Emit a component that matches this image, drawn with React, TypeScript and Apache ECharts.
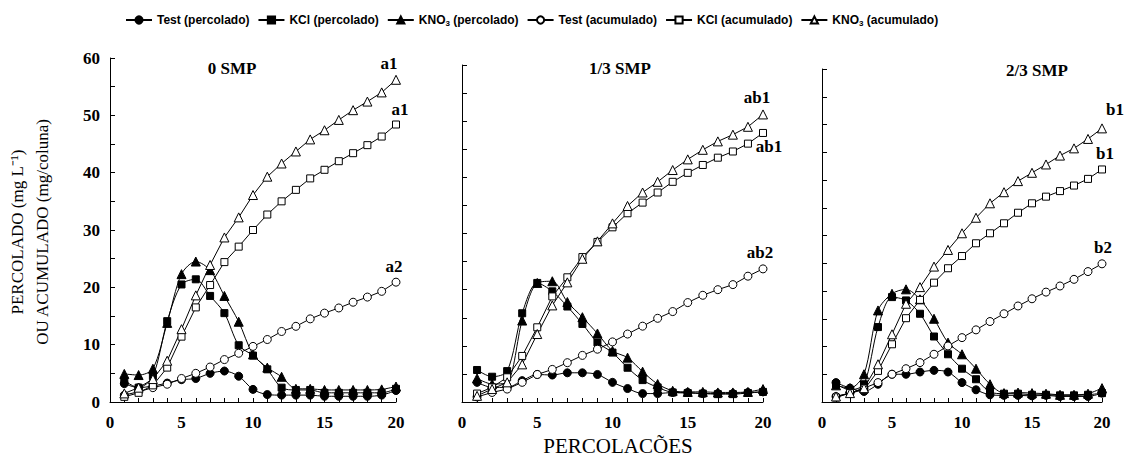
import React, { useEffect, useRef } from "react";
import * as echarts from "echarts";

const seriesNames = [
  "Test (percolado)",
  "KCl (percolado)",
  "KNO3 (percolado)",
  "Test (acumulado)",
  "KCl (acumulado)",
  "KNO3 (acumulado)",
];
const panelTitles = ["0 SMP", "1/3 SMP", "2/3 SMP"];
const xTickLabels = [0, 5, 10, 15, 20];
const yTickLabels = [0, 10, 20, 30, 40, 50, 60];

// Panel 1 : 0 SMP
const testP1 = [3.2, 2.5, 2.8, 3.3, 3.9, 4.1, 5.0, 5.4, 4.5, 2.2, 1.3, 1.2, 1.2, 1.2, 1.0, 1.0, 1.0, 1.0, 1.2, 2.0];
const kclP1 = [3.7, 2.5, 4.5, 14.1, 20.5, 21.4, 18.5, 15.5, 9.9, 8.1, 5.7, 2.5, 2.1, 2.1, 1.6, 1.6, 1.6, 1.6, 1.6, 2.3];
const kno3P1 = [4.9, 4.7, 5.8, 13.8, 22.3, 24.5, 23.0, 18.5, 14.0, 8.3, 6.0, 4.4, 2.3, 2.3, 2.1, 2.1, 2.1, 2.1, 2.2, 2.7];
const testA1 = [1.2, 1.8, 2.5, 3.1, 4.1, 5.0, 6.1, 7.4, 8.5, 9.7, 10.9, 12.3, 13.2, 14.5, 15.5, 16.4, 17.4, 18.3, 19.3, 20.9];
const kclA1 = [0.9, 1.6, 2.9, 6.0, 11.4, 16.5, 20.4, 24.4, 27.1, 30.0, 32.7, 35.0, 37.0, 39.0, 40.5, 42.0, 43.4, 44.8, 46.3, 48.4];
const kno3A1 = [1.5, 2.5, 4.0, 7.2, 12.7, 18.6, 23.9, 28.7, 32.2, 36.1, 39.3, 41.6, 43.7, 45.8, 47.4, 49.2, 50.9, 52.4, 54.0, 56.2];

// Panel 2 : 1/3 SMP
const testP2 = [3.5, 2.6, 2.6, 3.8, 4.9, 4.8, 5.2, 5.2, 4.9, 3.5, 2.4, 1.5, 1.5, 1.7, 1.7, 1.5, 1.5, 1.5, 1.7, 1.8];
const kclP2 = [5.7, 4.5, 5.5, 15.8, 21.2, 19.7, 17.0, 13.9, 10.6, 8.8, 6.1, 3.9, 2.6, 1.7, 1.6, 1.5, 1.4, 1.4, 1.6, 1.8];
const kno3P2 = [4.2, 3.2, 3.5, 14.5, 21.2, 21.5, 17.8, 15.1, 12.2, 9.1, 7.9, 5.4, 3.2, 2.0, 1.8, 1.8, 1.7, 1.7, 1.8, 2.3];
const testA2 = [0.9, 1.7, 2.3, 3.5, 4.9, 5.8, 7.0, 8.3, 9.4, 10.7, 12.1, 13.5, 14.9, 16.1, 17.7, 19.0, 20.0, 20.9, 22.4, 23.7];
const kclA2 = [1.5, 2.6, 4.4, 8.2, 13.3, 18.8, 22.2, 25.8, 28.5, 31.1, 33.6, 35.5, 37.3, 39.2, 40.8, 42.2, 43.5, 44.6, 46.0, 47.9];
const kno3A2 = [1.1, 2.3, 3.5, 6.7, 12.1, 17.2, 21.3, 25.5, 28.6, 31.8, 34.9, 37.3, 39.2, 41.3, 43.2, 44.9, 46.4, 47.6, 49.0, 51.2];

// Panel 3 : 2/3 SMP
const testP3 = [3.5, 2.5, 1.9, 3.2, 5.0, 5.0, 5.4, 5.7, 5.4, 3.5, 2.2, 1.3, 1.2, 1.2, 1.1, 1.2, 1.0, 1.0, 1.0, 1.6];
const kclP3 = [3.2, 2.2, 3.2, 13.5, 18.9, 18.3, 15.9, 11.8, 8.6, 6.0, 4.1, 1.8, 1.5, 1.5, 1.3, 1.3, 1.2, 1.2, 1.3, 1.6];
const kno3P3 = [3.0, 2.5, 5.0, 16.5, 19.5, 20.3, 18.5, 15.0, 10.7, 8.6, 6.0, 3.2, 1.6, 1.7, 1.6, 1.5, 1.3, 1.3, 1.5, 2.5];
const testA3 = [1.0, 1.6, 2.5, 3.5, 5.0, 6.0, 7.1, 8.6, 10.1, 11.6, 13.0, 14.5, 15.9, 17.3, 18.6, 19.8, 20.9, 22.1, 23.5, 24.9];
const kclA3 = [0.8, 1.6, 2.2, 5.6, 10.4, 15.1, 18.4, 21.5, 24.1, 26.3, 28.6, 30.4, 32.2, 34.1, 35.8, 37.0, 38.0, 39.0, 40.2, 41.9];
const kno3A3 = [1.0, 1.6, 2.5, 6.8, 12.2, 17.7, 20.7, 24.4, 27.4, 30.4, 33.2, 35.8, 37.8, 39.8, 41.3, 42.8, 44.4, 45.7, 47.4, 49.3];

// significance letters at the last point of each cumulative series
const letters1 = { test: "a2", kcl: "a1", kno3: "a1" };
const letters2 = { test: "ab2", kcl: "ab1", kno3: "ab1" };
const letters3 = { test: "b2", kcl: "b1", kno3: "b1" };

const panels = [
  { p: [testP1, kclP1, kno3P1], a: [testA1, kclA1, kno3A1], l: letters1 },
  { p: [testP2, kclP2, kno3P2], a: [testA2, kclA2, kno3A2], l: letters2 },
  { p: [testP3, kclP3, kno3P3], a: [testA3, kclA3, kno3A3], l: letters3 },
];

const SERIF = "'Liberation Serif', 'Times New Roman', Times, serif";
const SANS = "'Liberation Sans Narrow', 'Arial Narrow', 'Liberation Sans', Arial, sans-serif";

// label placements per panel: [test, kcl, kno3]
const labelCfg = [
  [
    { position: "top", offset: [-2, 0] },
    { position: "top", offset: [4, 0] },
    { position: "top", offset: [-7, 0] },
  ],
  [
    { position: "top", offset: [-3, 0] },
    { position: "bottom", offset: [6, -2] },
    { position: "top", offset: [-6, 0] },
  ],
  [
    { position: "top", offset: [1, 0] },
    { position: "top", offset: [3, 0] },
    { position: "top", offset: [13, -2] },
  ],
];

export default function App() {
  const ref = useRef<HTMLDivElement>(null);
  useEffect(() => {
    if (!ref.current) return;
    const chart = echarts.init(ref.current, null, { renderer: "svg" });

    const grids = [
      { left: 110, top: 58, width: 286, height: 344 },
      { left: 462, top: 65, width: 301, height: 337 },
      { left: 822, top: 69, width: 280, height: 333 },
    ];

    const xAxes = grids.map((_, i) => ({
      type: "value",
      gridIndex: i,
      min: 0,
      max: 20,
      interval: 1,
      axisLine: { lineStyle: { color: "#000", width: 1 } },
      axisTick: { inside: true, length: 4, lineStyle: { color: "#000" } },
      splitLine: { show: false },
      axisLabel: {
        color: "#000",
        fontFamily: SERIF,
        fontWeight: "bold",
        fontSize: 17,
        margin: 12,
        formatter: (v: number) => (xTickLabels.includes(v) ? String(v) : ""),
      },
    }));

    const yAxes = grids.map((_, i) => ({
      type: "value",
      gridIndex: i,
      min: 0,
      max: 60,
      interval: 5,
      axisLine: { show: true, lineStyle: { color: "#000", width: 1 } },
      axisTick: { show: true, inside: true, length: 5, lineStyle: { color: "#000" } },
      splitLine: { show: false },
      axisLabel: {
        show: i === 0,
        color: "#000",
        fontFamily: SERIF,
        fontWeight: "bold",
        fontSize: 17,
        margin: 10,
        formatter: (v: number) => (yTickLabels.includes(v) ? String(v) : ""),
      },
    }));

    const symbols = ["circle", "rect", "triangle"];
    const sizes = [8, 7, 9];
    const series: any[] = [];
    panels.forEach((panel, pi) => {
      panel.p.forEach((vals, k) => {
        series.push({
          name: seriesNames[k],
          type: "line",
          xAxisIndex: pi,
          yAxisIndex: pi,
          smooth: 0.3,
          symbol: symbols[k],
          symbolSize: sizes[k],
          itemStyle: { color: "#000", borderColor: "#000", borderWidth: 1 },
          lineStyle: { color: "#000", width: 1 },
          data: vals.map((v, i) => [i + 1, v]),
          z: 3,
        });
      });
      const keys = ["test", "kcl", "kno3"];
      panel.a.forEach((vals, k) => {
        const letter = (panel.l as any)[keys[k]];
        const cfg = labelCfg[pi][k];
        series.push({
          name: seriesNames[k + 3],
          type: "line",
          xAxisIndex: pi,
          yAxisIndex: pi,
          symbol: symbols[k],
          symbolSize: sizes[k],
          itemStyle: { color: "#fff", borderColor: "#000", borderWidth: 1 },
          lineStyle: { color: "#000", width: 1 },
          data: vals.map((v, i) =>
            i === vals.length - 1
              ? {
                  value: [i + 1, v],
                  label: {
                    show: true,
                    formatter: letter,
                    position: cfg.position,
                    offset: cfg.offset,
                    color: "#000",
                    fontFamily: SERIF,
                    fontWeight: "bold",
                    fontSize: 17,
                    distance: 3,
                  },
                }
              : [i + 1, v]
          ),
          z: 4,
        });
      });
    });

    const titleX = [232, 620, 1037];
    const titleY = [68, 68, 70];

    chart.setOption({
      animation: false,
      backgroundColor: "#fff",
      grid: grids,
      xAxis: xAxes,
      yAxis: yAxes,
      legend: {
        data: seriesNames,
        left: 120,
        top: 9,
        itemWidth: 26,
        itemHeight: 9,
        itemGap: 8,
        formatter: (name: string) => name.replace("KNO3", "KNO{sub|3}"),
        textStyle: {
          color: "#000",
          fontFamily: SANS,
          fontWeight: "bold",
          fontSize: 12,
          rich: {
            sub: {
              fontFamily: SANS,
              fontWeight: "bold",
              fontSize: 8,
              padding: [6, 0, 0, 0],
              color: "#000",
            },
          },
        },
      },
      graphic: [
        ...panelTitles.map((t, i) => ({
          type: "text",
          x: titleX[i],
          y: titleY[i],
          style: {
            text: t,
            fill: "#000",
            font: `bold 17px ${SERIF}`,
            textAlign: "center",
            textVerticalAlign: "middle",
          },
        })),
        {
          type: "text",
          x: 17,
          y: 232,
          rotation: Math.PI / 2,
          style: {
            text: "PERCOLADO (mg L\u207B\u00B9)",
            fill: "#000",
            font: `17px ${SERIF}`,
            textAlign: "center",
            textVerticalAlign: "middle",
          },
        },
        {
          type: "text",
          x: 42,
          y: 232,
          rotation: Math.PI / 2,
          style: {
            text: "OU ACUMULADO (mg/coluna)",
            fill: "#000",
            font: `17px ${SERIF}`,
            textAlign: "center",
            textVerticalAlign: "middle",
          },
        },
        {
          type: "text",
          x: 618,
          y: 446,
          style: {
            text: "PERCOLACÕES",
            fill: "#000",
            font: `21px ${SERIF}`,
            textAlign: "center",
            textVerticalAlign: "middle",
          },
        },
      ],
      series,
    });
    return () => chart.dispose();
  }, []);
  return (
    <div
      ref={ref}
      style={{ position: "fixed", left: 0, top: 0, width: 1141, height: 463 }}
    />
  );
}
